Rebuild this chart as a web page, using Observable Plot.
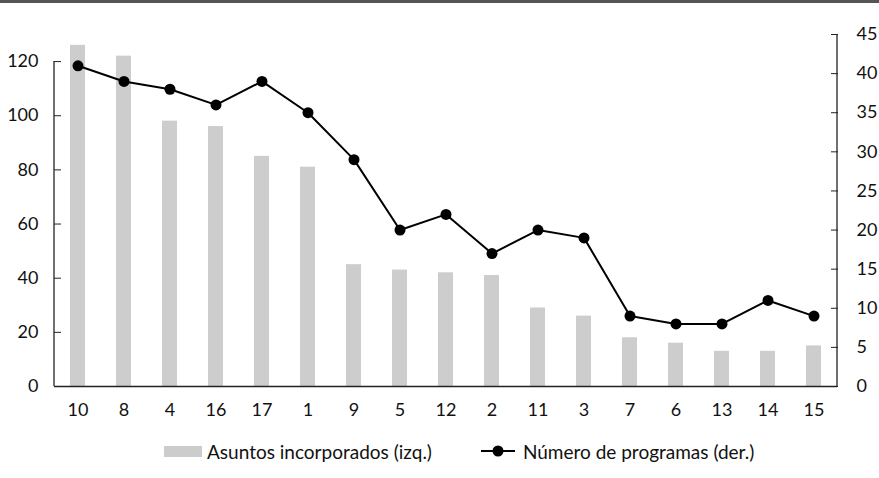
<!DOCTYPE html>
<html>
<head>
<meta charset="utf-8">
<script src="https://cdn.jsdelivr.net/npm/d3@7"></script>
<script src="https://cdn.jsdelivr.net/npm/@observablehq/plot@0.6"></script>
<style>
  html, body { margin: 0; padding: 0; background: #fff; }
  body { width: 879px; height: 478px; position: relative; overflow: hidden; font-family: Lato, "Noto Sans", sans-serif; }
  #topline { position: absolute; left: 0; top: 0; width: 879px; height: 3px; background: #555; }
  #chart { position: absolute; left: 0; top: 0; }
  #legend { position: absolute; left: 0; top: 438px; height: 26px; display: flex; align-items: center; font-size: 19px; color: #111; }
  .sw { display: inline-block; width: 38px; height: 11px; background: #cccccc; margin-right: 5px; }
  .item { display: flex; align-items: center; }
</style>
</head>
<body>
<div id="topline"></div>
<div id="chart"></div>
<div id="legend">
  <div class="item" style="margin-left:164px"><span class="sw"></span><span>Asuntos incorporados (izq.)</span></div>
  <div class="item" style="margin-left:49px"><svg width="36" height="14" style="margin-right:6px"><line x1="0" x2="34" y1="7" y2="7" stroke="#000" stroke-width="2"/><circle cx="17" cy="7" r="5.5" fill="#000"/></svg><span>Número de programas (der.)</span></div>
</div>
<script>
const categories = ["10","8","4","16","17","1","9","5","12","2","11","3","7","6","13","14","15"];
const asuntos   = [126,122,98,96,85,81,45,43,42,41,29,26,18,16,13,13,15];
const programas = [41,39,38,36,39,35,29,20,22,17,20,19,9,8,8,11,9];
const leftTicks = [0,20,40,60,80,100,120];
const rightTicks = [0,5,10,15,20,25,30,35,40,45];
const leftMax = 130, rightMax = 45;

const k = leftMax / rightMax;
const data = categories.map((c, i) => ({cat: c, asuntos: asuntos[i], programas: programas[i], py: programas[i] * k}));

function vAxisLine(side, top) {
  return (index, scales, values, dims) => {
    const x = side === "left" ? dims.marginLeft : dims.width - dims.marginRight;
    return d3.create("svg:line")
      .attr("x1", x).attr("x2", x)
      .attr("y1", scales.y(0)).attr("y2", scales.y(top))
      .attr("stroke", "#222").attr("stroke-width", 1.3)
      .node();
  };
}

const plot = Plot.plot({
  width: 879,
  height: 430,
  marginTop: 34,
  marginBottom: 44,
  marginLeft: 54,
  marginRight: 42,
  style: {fontFamily: "Lato, 'Noto Sans', sans-serif", fontSize: "18px", color: "#111", background: "transparent"},
  x: {domain: categories, paddingInner: 0.674, paddingOuter: 0.337, label: null},
  y: {domain: [0, leftMax], label: null},
  marks: [
    Plot.barY(data, {x: "cat", y: "asuntos", fill: "#cdcdcd"}),
    Plot.ruleY([0], {stroke: "#222", strokeWidth: 1.5}),
    vAxisLine("left", 120),
    vAxisLine("right", leftMax),
    Plot.axisY(leftTicks, {anchor: "left", tickSize: 7, dx: 7, tickPadding: 16, label: null, stroke: "#222"}),
    Plot.axisY(rightTicks.map(v => v * k), {anchor: "right", tickSize: 7, dx: -7, tickPadding: 19, label: null, tickFormat: d => String(Math.round(d / k)), stroke: "#222"}),
    Plot.axisX({tickSize: 0, tickPadding: 17, label: null}),
    Plot.line(data, {x: "cat", y: "py", stroke: "#000", strokeWidth: 2}),
    Plot.dot(data, {x: "cat", y: "py", r: 5.5, fill: "#000", stroke: "none"})
  ]
});
document.getElementById("chart").appendChild(plot);
</script>
</body>
</html>
